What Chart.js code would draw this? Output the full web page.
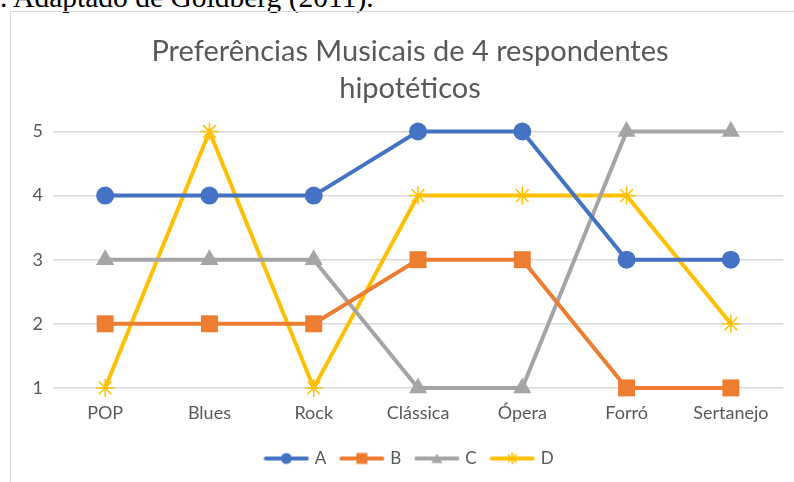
<!DOCTYPE html>
<html>
<head>
<meta charset="utf-8">
<script src="https://cdn.jsdelivr.net/npm/chart.js@4/dist/chart.umd.min.js"></script>
<style>
  html, body { margin: 0; padding: 0; background: #fff; overflow: hidden; }
  body { width: 794px; height: 482px; position: relative; }
  #source {
    position: absolute; left: 0; top: -17px; white-space: nowrap; line-height: 1;
    font-family: "Liberation Serif", serif; font-size: 29.5px; color: #000;
  }
  #frame {
    position: absolute; left: 10px; top: 11px; width: 800px; height: 480px;
    border: 1px solid #d9d9d9;
  }
  #wrap { position: absolute; left: 11px; top: 12px; width: 798px; height: 470px; }
</style>
</head>
<body>
<div id="source">. Adaptado de Goldberg (2011).</div>
<div id="frame"></div>
<div id="wrap"><canvas id="chart"></canvas></div>
<script>
let generos = ['POP', 'Blues', 'Rock', 'Clássica', 'Ópera', 'Forró', 'Sertanejo'];
let respA = [4, 4, 4, 5, 5, 3, 3];
let respB = [2, 2, 2, 3, 3, 1, 1];
let respC = [3, 3, 3, 1, 1, 5, 5];
let respD = [1, 5, 1, 4, 4, 4, 2];
let yTicks = [1, 2, 3, 4, 5];

let cores = ['#4472C4', '#ED7D31', '#A5A5A5', '#FFC000'];
let estilos = ['circle', 'rect', 'triangle', 'star'];
let raios = [9, 12, 10.5, 9];

// small line + marker swatch for the legend
function swatch(color, style) {
  let c = document.createElement('canvas');
  c.width = 46; c.height = 16;
  let ctx = c.getContext('2d');
  ctx.strokeStyle = color;
  ctx.fillStyle = color;
  ctx.lineWidth = 4;
  ctx.lineCap = 'round';
  ctx.beginPath();
  ctx.moveTo(2.5, 8); ctx.lineTo(43.5, 8);
  ctx.stroke();
  let x = 23, y = 8;
  ctx.beginPath();
  if (style === 'circle') {
    ctx.arc(x, y, 5.5, 0, Math.PI * 2);
    ctx.fill();
  } else if (style === 'rect') {
    ctx.fillRect(x - 5.5, y - 5.5, 11, 11);
  } else if (style === 'triangle') {
    ctx.moveTo(x, y - 5); ctx.lineTo(x + 5.5, y + 4.5); ctx.lineTo(x - 5.5, y + 4.5);
    ctx.closePath();
    ctx.fill();
  } else {
    ctx.lineWidth = 1.5;
    ctx.lineCap = 'butt';
    for (let a = 0; a < 4; a++) {
      let ang = a * Math.PI / 4;
      ctx.moveTo(x - Math.cos(ang) * 6, y - Math.sin(ang) * 6);
      ctx.lineTo(x + Math.cos(ang) * 6, y + Math.sin(ang) * 6);
    }
    ctx.stroke();
  }
  return c;
}

let series = [respA, respB, respC, respD];
let nomes = ['A', 'B', 'C', 'D'];
let datasets = series.map((vals, i) => ({
  label: nomes[i],
  data: vals,
  borderColor: cores[i],
  backgroundColor: cores[i],
  borderWidth: 4,
  pointStyle: estilos[i],
  pointRadius: raios[i],
  pointHoverRadius: raios[i],
  pointBorderWidth: i === 3 ? 1.5 : 0,
  pointBackgroundColor: cores[i],
  pointBorderColor: cores[i],
  tension: 0,
  clip: false,
}));

let ctx = document.getElementById('chart');
new Chart(ctx, {
  type: 'line',
  data: { labels: generos, datasets: datasets },
  options: {
    responsive: true,
    maintainAspectRatio: false,
    animation: false,
    layout: { padding: { left: 0, right: 0, top: 12, bottom: 5 } },
    plugins: {
      title: {
        display: true,
        text: ['Preferências Musicais de 4 respondentes', 'hipotéticos'],
        color: '#595959',
        font: { family: 'Lato', size: 29, weight: 'normal', lineHeight: 1.25 },
        padding: { top: 10, bottom: 25 },
      },
      legend: {
        position: 'bottom',
        labels: {
          color: '#595959',
          font: { family: 'Lato', size: 17 },
          usePointStyle: true,
          pointStyleWidth: 40,
          padding: 15.5,
          generateLabels: (chart) => chart.data.datasets.map((ds, i) => ({
            text: ds.label,
            pointStyle: swatch(cores[i], estilos[i]),
            fontColor: '#595959',
            datasetIndex: i,
            lineWidth: 0,
          })),
        },
      },
      tooltip: { enabled: false },
    },
    scales: {
      x: {
        offset: true,
        grid: { display: false },
        border: { display: false },
        afterFit: (axis) => { axis.height += 5; },
        ticks: { color: '#595959', font: { family: 'Lato', size: 18 }, padding: 6 },
      },
      y: {
        min: 1,
        max: 5,
        afterBuildTicks: (axis) => { axis.ticks = yTicks.map(v => ({ value: v })); },
        afterFit: (axis) => { axis.width = 42; },
        grid: { color: '#d9d9d9', lineWidth: 1.5, drawTicks: false },
        border: { display: false },
        ticks: { color: '#595959', font: { family: 'Lato', size: 18 }, padding: 10 },
      },
      // empty right margin next to the plot area
      yDir: {
        position: 'right',
        grid: { display: false },
        border: { display: false },
        ticks: { display: false },
        afterFit: (axis) => { axis.width = 26; },
      },
    },
  },
});
</script>
</body>
</html>
